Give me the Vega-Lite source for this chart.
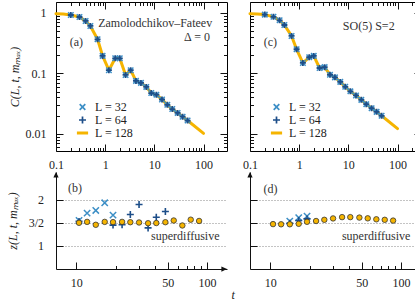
{
  "$schema": "https://vega.github.io/schema/vega-lite/v6.json",
  "padding": {"left": 6, "top": 1, "right": 0, "bottom": 0},
  "background": "white",
  "config": {
    "font": "Liberation Serif",
    "view": {"stroke": "black", "strokeWidth": 1},
    "axis": {
      "labelFont": "Liberation Serif", "labelFontSize": 12, "labelColor": "#222",
      "titleFont": "Liberation Serif", "titleFontSize": 12, "titleColor": "#222", "titleFontWeight": "normal",
      "tickColor": "#111", "tickWidth": 1, "domainColor": "#111", "domainWidth": 1,
      "labelOverlap": false, "labelFlush": false, "grid": false
    },
    "legend": {"labelFont": "Liberation Serif", "labelFontSize": 12, "labelColor": "#222"},
    "title": {"font": "Liberation Serif"}
  },
  "title": {"text": "t", "orient": "bottom", "anchor": "middle", "fontStyle": "italic", "fontWeight": "normal", "fontSize": 12, "color": "#222", "offset": 2, "dx": 19},
  "datasets": {
    "A": [
      {"L": "L = 128", "t": 0.1, "C": 0.975}, {"L": "L = 128", "t": 0.14, "C": 0.96},
      {"L": "L = 128", "t": 0.2, "C": 0.927}, {"L": "L = 128", "t": 0.3, "C": 0.859}, {"L": "L = 128", "t": 0.4, "C": 0.738}, {"L": "L = 128", "t": 0.5, "C": 0.61},
      {"L": "L = 128", "t": 0.7, "C": 0.367}, {"L": "L = 128", "t": 0.886, "C": 0.195}, {"L": "L = 128", "t": 1.19, "C": 0.113}, {"L": "L = 128", "t": 1.6, "C": 0.178},
      {"L": "L = 128", "t": 1.98, "C": 0.178}, {"L": "L = 128", "t": 2.6, "C": 0.0944}, {"L": "L = 128", "t": 3.3, "C": 0.113}, {"L": "L = 128", "t": 4.23, "C": 0.0752},
      {"L": "L = 128", "t": 5.34, "C": 0.0697}, {"L": "L = 128", "t": 6.85, "C": 0.0598}, {"L": "L = 128", "t": 8.65, "C": 0.0473}, {"L": "L = 128", "t": 11, "C": 0.0445},
      {"L": "L = 128", "t": 14.3, "C": 0.037}, {"L": "L = 128", "t": 18.35, "C": 0.0302}, {"L": "L = 128", "t": 23.15, "C": 0.0257}, {"L": "L = 128", "t": 29.7, "C": 0.0222},
      {"L": "L = 128", "t": 37.5, "C": 0.0192}, {"L": "L = 128", "t": 47.4, "C": 0.0166}, {"L": "L = 128", "t": 100, "C": 0.0102},
      {"L": "L = 32", "t": 0.2, "C": 0.927}, {"L": "L = 32", "t": 0.3, "C": 0.859}, {"L": "L = 32", "t": 0.4, "C": 0.738}, {"L": "L = 32", "t": 0.5, "C": 0.61},
      {"L": "L = 32", "t": 0.7, "C": 0.367}, {"L": "L = 32", "t": 0.886, "C": 0.195}, {"L": "L = 32", "t": 1.19, "C": 0.113}, {"L": "L = 32", "t": 1.6, "C": 0.178},
      {"L": "L = 32", "t": 1.98, "C": 0.178}, {"L": "L = 32", "t": 2.6, "C": 0.0944}, {"L": "L = 32", "t": 3.3, "C": 0.113}, {"L": "L = 32", "t": 4.23, "C": 0.0752},
      {"L": "L = 32", "t": 5.34, "C": 0.0697}, {"L": "L = 32", "t": 6.85, "C": 0.0598}, {"L": "L = 32", "t": 8.65, "C": 0.0473}, {"L": "L = 32", "t": 11, "C": 0.0445},
      {"L": "L = 32", "t": 14.3, "C": 0.037}, {"L": "L = 32", "t": 18.35, "C": 0.0302}, {"L": "L = 32", "t": 23.15, "C": 0.0257}, {"L": "L = 32", "t": 29.7, "C": 0.0222},
      {"L": "L = 32", "t": 37.5, "C": 0.0192}, {"L": "L = 32", "t": 47.4, "C": 0.0166},
      {"L": "L = 64", "t": 0.2, "C": 0.927}, {"L": "L = 64", "t": 0.3, "C": 0.859}, {"L": "L = 64", "t": 0.4, "C": 0.738}, {"L": "L = 64", "t": 0.5, "C": 0.61},
      {"L": "L = 64", "t": 0.7, "C": 0.367}, {"L": "L = 64", "t": 0.886, "C": 0.195}, {"L": "L = 64", "t": 1.19, "C": 0.113}, {"L": "L = 64", "t": 1.6, "C": 0.178},
      {"L": "L = 64", "t": 1.98, "C": 0.178}, {"L": "L = 64", "t": 2.6, "C": 0.0944}, {"L": "L = 64", "t": 3.3, "C": 0.113}, {"L": "L = 64", "t": 4.23, "C": 0.0752},
      {"L": "L = 64", "t": 5.34, "C": 0.0697}, {"L": "L = 64", "t": 6.85, "C": 0.0598}, {"L": "L = 64", "t": 8.65, "C": 0.0473}, {"L": "L = 64", "t": 11, "C": 0.0445},
      {"L": "L = 64", "t": 14.3, "C": 0.037}, {"L": "L = 64", "t": 18.35, "C": 0.0302}, {"L": "L = 64", "t": 23.15, "C": 0.0257}, {"L": "L = 64", "t": 29.7, "C": 0.0222},
      {"L": "L = 64", "t": 37.5, "C": 0.0192}, {"L": "L = 64", "t": 47.4, "C": 0.0166}
    ],
    "C": [
      {"L": "L = 128", "t": 0.1, "C": 0.975}, {"L": "L = 128", "t": 0.14, "C": 0.96},
      {"L": "L = 128", "t": 0.2, "C": 0.94}, {"L": "L = 128", "t": 0.3, "C": 0.865}, {"L": "L = 128", "t": 0.4, "C": 0.757}, {"L": "L = 128", "t": 0.5, "C": 0.633},
      {"L": "L = 128", "t": 0.7, "C": 0.417}, {"L": "L = 128", "t": 0.886, "C": 0.251}, {"L": "L = 128", "t": 1.19, "C": 0.149}, {"L": "L = 128", "t": 1.6, "C": 0.185},
      {"L": "L = 128", "t": 1.98, "C": 0.195}, {"L": "L = 128", "t": 2.6, "C": 0.123}, {"L": "L = 128", "t": 3.3, "C": 0.127}, {"L": "L = 128", "t": 4.23, "C": 0.095},
      {"L": "L = 128", "t": 5.34, "C": 0.086}, {"L": "L = 128", "t": 6.85, "C": 0.0724}, {"L": "L = 128", "t": 8.65, "C": 0.06}, {"L": "L = 128", "t": 11, "C": 0.0505},
      {"L": "L = 128", "t": 14.3, "C": 0.0432}, {"L": "L = 128", "t": 18.35, "C": 0.0365}, {"L": "L = 128", "t": 23.15, "C": 0.031}, {"L": "L = 128", "t": 29.7, "C": 0.0266},
      {"L": "L = 128", "t": 37.5, "C": 0.0231}, {"L": "L = 128", "t": 47.4, "C": 0.0199}, {"L": "L = 128", "t": 100, "C": 0.0122},
      {"L": "L = 32", "t": 0.2, "C": 0.94}, {"L": "L = 32", "t": 0.3, "C": 0.865}, {"L": "L = 32", "t": 0.4, "C": 0.757}, {"L": "L = 32", "t": 0.5, "C": 0.633},
      {"L": "L = 32", "t": 0.7, "C": 0.417}, {"L": "L = 32", "t": 0.886, "C": 0.251}, {"L": "L = 32", "t": 1.19, "C": 0.149}, {"L": "L = 32", "t": 1.6, "C": 0.185},
      {"L": "L = 32", "t": 1.98, "C": 0.195}, {"L": "L = 32", "t": 2.6, "C": 0.123}, {"L": "L = 32", "t": 3.3, "C": 0.127}, {"L": "L = 32", "t": 4.23, "C": 0.095},
      {"L": "L = 32", "t": 5.34, "C": 0.086}, {"L": "L = 32", "t": 6.85, "C": 0.0724}, {"L": "L = 32", "t": 8.65, "C": 0.06}, {"L": "L = 32", "t": 11, "C": 0.0505},
      {"L": "L = 32", "t": 14.3, "C": 0.0432}, {"L": "L = 32", "t": 18.35, "C": 0.0365}, {"L": "L = 32", "t": 23.15, "C": 0.031}, {"L": "L = 32", "t": 29.7, "C": 0.0266},
      {"L": "L = 32", "t": 37.5, "C": 0.0231}, {"L": "L = 32", "t": 47.4, "C": 0.0199},
      {"L": "L = 64", "t": 0.2, "C": 0.94}, {"L": "L = 64", "t": 0.3, "C": 0.865}, {"L": "L = 64", "t": 0.4, "C": 0.757}, {"L": "L = 64", "t": 0.5, "C": 0.633},
      {"L": "L = 64", "t": 0.7, "C": 0.417}, {"L": "L = 64", "t": 0.886, "C": 0.251}, {"L": "L = 64", "t": 1.19, "C": 0.149}, {"L": "L = 64", "t": 1.6, "C": 0.185},
      {"L": "L = 64", "t": 1.98, "C": 0.195}, {"L": "L = 64", "t": 2.6, "C": 0.123}, {"L": "L = 64", "t": 3.3, "C": 0.127}, {"L": "L = 64", "t": 4.23, "C": 0.095},
      {"L": "L = 64", "t": 5.34, "C": 0.086}, {"L": "L = 64", "t": 6.85, "C": 0.0724}, {"L": "L = 64", "t": 8.65, "C": 0.06}, {"L": "L = 64", "t": 11, "C": 0.0505},
      {"L": "L = 64", "t": 14.3, "C": 0.0432}, {"L": "L = 64", "t": 18.35, "C": 0.0365}, {"L": "L = 64", "t": 23.15, "C": 0.031}, {"L": "L = 64", "t": 29.7, "C": 0.0266},
      {"L": "L = 64", "t": 37.5, "C": 0.0231}, {"L": "L = 64", "t": 47.4, "C": 0.0199}
    ],
    "B": [
      {"L": "L = 128", "t": 10.5, "z": 1.5}, {"L": "L = 128", "t": 12.1, "z": 1.52}, {"L": "L = 128", "t": 14.1, "z": 1.457}, {"L": "L = 128", "t": 16.5, "z": 1.52},
      {"L": "L = 128", "t": 19.1, "z": 1.515}, {"L": "L = 128", "t": 22.4, "z": 1.52}, {"L": "L = 128", "t": 25.9, "z": 1.513}, {"L": "L = 128", "t": 30.2, "z": 1.507},
      {"L": "L = 128", "t": 35.4, "z": 1.491}, {"L": "L = 128", "t": 40.9, "z": 1.495}, {"L": "L = 128", "t": 48, "z": 1.513}, {"L": "L = 128", "t": 55.6, "z": 1.55},
      {"L": "L = 128", "t": 64.7, "z": 1.442}, {"L": "L = 128", "t": 75, "z": 1.568}, {"L": "L = 128", "t": 86.9, "z": 1.54},
      {"L": "L = 32", "t": 10.5, "z": 1.55}, {"L": "L = 32", "t": 12.1, "z": 1.709}, {"L": "L = 32", "t": 14.1, "z": 1.767}, {"L": "L = 32", "t": 16.5, "z": 1.934}, {"L": "L = 32", "t": 19.1, "z": 1.666},
      {"L": "L = 64", "t": 10.5, "z": 1.53}, {"L": "L = 64", "t": 19.1, "z": 1.45}, {"L": "L = 64", "t": 22.4, "z": 1.457}, {"L": "L = 64", "t": 25.9, "z": 1.68},
      {"L": "L = 64", "t": 30.2, "z": 1.898}, {"L": "L = 64", "t": 35.4, "z": 1.39}, {"L": "L = 64", "t": 40.9, "z": 1.62}, {"L": "L = 64", "t": 48, "z": 1.745}
    ],
    "D": [
      {"L": "L = 128", "t": 10.5, "z": 1.472}, {"L": "L = 128", "t": 12.1, "z": 1.468}, {"L": "L = 128", "t": 14.1, "z": 1.468}, {"L": "L = 128", "t": 16.5, "z": 1.478},
      {"L": "L = 128", "t": 19.1, "z": 1.522}, {"L": "L = 128", "t": 22.4, "z": 1.539}, {"L": "L = 128", "t": 25.9, "z": 1.565}, {"L": "L = 128", "t": 30.2, "z": 1.595},
      {"L": "L = 128", "t": 35.4, "z": 1.623}, {"L": "L = 128", "t": 40.9, "z": 1.623}, {"L": "L = 128", "t": 48, "z": 1.613}, {"L": "L = 128", "t": 55.6, "z": 1.597},
      {"L": "L = 128", "t": 64.7, "z": 1.576}, {"L": "L = 128", "t": 75, "z": 1.565}, {"L": "L = 128", "t": 86.9, "z": 1.548},
      {"L": "L = 32", "t": 14.1, "z": 1.537}, {"L": "L = 32", "t": 16.5, "z": 1.61}, {"L": "L = 32", "t": 19.1, "z": 1.645},
      {"L": "L = 64", "t": 14.1, "z": 1.49}, {"L": "L = 64", "t": 16.5, "z": 1.55}, {"L": "L = 64", "t": 19.1, "z": 1.585}
    ]
  },
  "columns": 2,
  "align": "each",
  "spacing": {"row": 1, "column": 14},
  "resolve": {"scale": {"color": "independent"}, "legend": {"color": "independent"}},
  "concat": [
    {
      "width": 171, "height": 149,
      "view": {"stroke": "black", "strokeWidth": 1},
      "data": {"name": "A"},
      "resolve": {"axis": {"x": "independent", "y": "independent"}},
      "layer": [
        {
          "transform": [{"filter": "datum.L == 'L = 128'"}],
          "mark": {"type": "line", "strokeWidth": 3, "strokeJoin": "round", "strokeCap": "round"},
          "encoding": {
            "x": {"field": "t", "type": "quantitative", "scale": {"type": "log", "domain": [0.1, 300], "nice": false},
              "axis": {"orient": "bottom", "title": null, "values": [0.1, 1, 10, 100], "format": "~g", "tickSize": 7, "offset": -7, "labelPadding": 8, "domain": false}},
            "y": {"field": "C", "type": "quantitative", "scale": {"type": "log", "domain": [0.0052, 1.52], "nice": false},
              "axis": {"orient": "left", "title": "C(L, t, mₘₐₓ)", "titleFontStyle": "italic", "values": [0.01, 0.1, 1], "format": "~g",
                "tickSize": 7, "offset": -7, "labelPadding": 10, "minExtent": 38, "maxExtent": 38, "titlePadding": 4, "domain": false}},
            "color": {"field": "L", "type": "nominal", "scale": {"domain": ["L = 32", "L = 64", "L = 128"], "range": ["#3d8fc6", "#1d4e89", "#f5b400"]},
              "legend": {"title": null, "orient": "none", "legendX": 20.5, "legendY": 99, "symbolSize": 49, "labelOffset": 6.5, "rowPadding": -1, "padding": 0,
                "encode": {"symbols": {"update": {
                  "shape": {"signal": "datum.value == 'L = 128' ? 'M-1.6,0H1.6' : datum.value == 'L = 64' ? 'M-1,0H1M0,-1V1' : 'M-0.8,-0.8L0.8,0.8M-0.8,0.8L0.8,-0.8'"},
                  "strokeWidth": {"signal": "datum.value == 'L = 128' ? 3 : 1.7"},
                  "fill": {"value": "transparent"}, "opacity": {"value": 1}}}}}}
          }
        },
        {
          "transform": [{"filter": "datum.L == 'L = 32'"}],
          "mark": {"type": "point", "shape": "M-1,-1L1,1M-1,1L1,-1", "filled": false, "size": 30, "strokeWidth": 1.5, "opacity": 1},
          "encoding": {
            "x": {"field": "t", "type": "quantitative", "axis": {"orient": "top", "title": null, "values": [0.1, 1, 10, 100], "labels": false, "tickSize": 7, "offset": -7, "domain": false}},
            "y": {"field": "C", "type": "quantitative", "axis": {"orient": "right", "title": null, "values": [0.01, 0.1, 1], "labels": false, "tickSize": 7, "offset": -7, "domain": false}},
            "color": {"field": "L", "type": "nominal"}
          }
        },
        {
          "transform": [{"filter": "datum.L == 'L = 64'"}],
          "mark": {"type": "point", "shape": "M-1,0H1M0,-1V1", "filled": false, "size": 36, "strokeWidth": 1.8, "opacity": 1},
          "encoding": {
            "x": {"field": "t", "type": "quantitative", "axis": {"orient": "bottom", "title": null, "values": [0.2,0.3,0.4,0.5,0.6,0.7,0.8,0.9,2,3,4,5,6,7,8,9,20,30,40,50,60,70,80,90,200], "labels": false, "tickSize": 3.5, "offset": -3.5, "domain": false}},
            "y": {"field": "C", "type": "quantitative", "axis": {"orient": "left", "title": null, "values": [0.006,0.007,0.008,0.009,0.02,0.03,0.04,0.05,0.06,0.07,0.08,0.09,0.2,0.3,0.4,0.5,0.6,0.7,0.8,0.9], "labels": false, "tickSize": 3.5, "offset": -3.5, "domain": false}},
            "color": {"field": "L", "type": "nominal"}
          }
        },
        {
          "data": {"values": [{}]},
          "mark": {"type": "text", "text": "Zamolodchikov–Fateev", "align": "right", "baseline": "middle", "fontSize": 12, "color": "#333"},
          "encoding": {
            "x": {"datum": 150, "type": "quantitative", "axis": {"orient": "top", "title": null, "values": [0.2,0.3,0.4,0.5,0.6,0.7,0.8,0.9,2,3,4,5,6,7,8,9,20,30,40,50,60,70,80,90,200], "labels": false, "tickSize": 3.5, "offset": -3.5, "domain": false}},
            "y": {"datum": 0.67, "type": "quantitative", "axis": {"orient": "right", "title": null, "values": [0.006,0.007,0.008,0.009,0.02,0.03,0.04,0.05,0.06,0.07,0.08,0.09,0.2,0.3,0.4,0.5,0.6,0.7,0.8,0.9], "labels": false, "tickSize": 3.5, "offset": -3.5, "domain": false}}
          }
        },
        {
          "data": {"values": [{}]},
          "mark": {"type": "text", "text": "Δ = 0", "align": "right", "baseline": "middle", "fontSize": 12, "color": "#333"},
          "encoding": {"x": {"datum": 135, "type": "quantitative", "axis": null}, "y": {"datum": 0.4, "type": "quantitative", "axis": null}}
        },
        {
          "data": {"values": [{}]},
          "mark": {"type": "text", "text": "(a)", "align": "left", "baseline": "middle", "fontSize": 12, "color": "#333"},
          "encoding": {"x": {"datum": 0.19, "type": "quantitative", "axis": null}, "y": {"datum": 0.336, "type": "quantitative", "axis": null}}
        }
      ]
    },
    {
      "width": 171, "height": 149,
      "view": {"stroke": "black", "strokeWidth": 1},
      "data": {"name": "C"},
      "resolve": {"axis": {"x": "independent", "y": "independent"}},
      "layer": [
        {
          "transform": [{"filter": "datum.L == 'L = 128'"}],
          "mark": {"type": "line", "strokeWidth": 3, "strokeJoin": "round", "strokeCap": "round"},
          "encoding": {
            "x": {"field": "t", "type": "quantitative", "scale": {"type": "log", "domain": [0.1, 300], "nice": false},
              "axis": {"orient": "bottom", "title": null, "values": [0.1, 1, 10, 100], "format": "~g", "tickSize": 7, "offset": -7, "labelPadding": 8, "domain": false}},
            "y": {"field": "C", "type": "quantitative", "scale": {"type": "log", "domain": [0.0052, 1.52], "nice": false},
              "axis": {"orient": "left", "title": null, "values": [0.01, 0.1, 1], "labels": false, "tickSize": 7, "offset": -7, "domain": false}},
            "color": {"field": "L", "type": "nominal", "scale": {"domain": ["L = 32", "L = 64", "L = 128"], "range": ["#3d8fc6", "#1d4e89", "#f5b400"]},
              "legend": {"title": null, "orient": "none", "legendX": 20.5, "legendY": 99, "symbolSize": 49, "labelOffset": 6.5, "rowPadding": -1, "padding": 0,
                "encode": {"symbols": {"update": {
                  "shape": {"signal": "datum.value == 'L = 128' ? 'M-1.6,0H1.6' : datum.value == 'L = 64' ? 'M-1,0H1M0,-1V1' : 'M-0.8,-0.8L0.8,0.8M-0.8,0.8L0.8,-0.8'"},
                  "strokeWidth": {"signal": "datum.value == 'L = 128' ? 3 : 1.7"},
                  "fill": {"value": "transparent"}, "opacity": {"value": 1}}}}}}
          }
        },
        {
          "transform": [{"filter": "datum.L == 'L = 32'"}],
          "mark": {"type": "point", "shape": "M-1,-1L1,1M-1,1L1,-1", "filled": false, "size": 30, "strokeWidth": 1.5, "opacity": 1},
          "encoding": {
            "x": {"field": "t", "type": "quantitative", "axis": {"orient": "top", "title": null, "values": [0.1, 1, 10, 100], "labels": false, "tickSize": 7, "offset": -7, "domain": false}},
            "y": {"field": "C", "type": "quantitative", "axis": {"orient": "right", "title": null, "values": [0.01, 0.1, 1], "labels": false, "tickSize": 7, "offset": -7, "domain": false}},
            "color": {"field": "L", "type": "nominal"}
          }
        },
        {
          "transform": [{"filter": "datum.L == 'L = 64'"}],
          "mark": {"type": "point", "shape": "M-1,0H1M0,-1V1", "filled": false, "size": 36, "strokeWidth": 1.8, "opacity": 1},
          "encoding": {
            "x": {"field": "t", "type": "quantitative", "axis": {"orient": "bottom", "title": null, "values": [0.2,0.3,0.4,0.5,0.6,0.7,0.8,0.9,2,3,4,5,6,7,8,9,20,30,40,50,60,70,80,90,200], "labels": false, "tickSize": 3.5, "offset": -3.5, "domain": false}},
            "y": {"field": "C", "type": "quantitative", "axis": {"orient": "left", "title": null, "values": [0.006,0.007,0.008,0.009,0.02,0.03,0.04,0.05,0.06,0.07,0.08,0.09,0.2,0.3,0.4,0.5,0.6,0.7,0.8,0.9], "labels": false, "tickSize": 3.5, "offset": -3.5, "domain": false}},
            "color": {"field": "L", "type": "nominal"}
          }
        },
        {
          "data": {"values": [{}]},
          "mark": {"type": "text", "text": "SO(5) S=2", "align": "right", "baseline": "middle", "fontSize": 12, "color": "#333"},
          "encoding": {
            "x": {"datum": 87.3, "type": "quantitative", "axis": {"orient": "top", "title": null, "values": [0.2,0.3,0.4,0.5,0.6,0.7,0.8,0.9,2,3,4,5,6,7,8,9,20,30,40,50,60,70,80,90,200], "labels": false, "tickSize": 3.5, "offset": -3.5, "domain": false}},
            "y": {"datum": 0.61, "type": "quantitative", "axis": {"orient": "right", "title": null, "values": [0.006,0.007,0.008,0.009,0.02,0.03,0.04,0.05,0.06,0.07,0.08,0.09,0.2,0.3,0.4,0.5,0.6,0.7,0.8,0.9], "labels": false, "tickSize": 3.5, "offset": -3.5, "domain": false}}
          }
        },
        {
          "data": {"values": [{}]},
          "mark": {"type": "text", "text": "(c)", "align": "left", "baseline": "middle", "fontSize": 12, "color": "#333"},
          "encoding": {"x": {"datum": 0.19, "type": "quantitative", "axis": null}, "y": {"datum": 0.336, "type": "quantitative", "axis": null}}
        }
      ]
    },
    {
      "width": 171, "height": 97,
      "view": {"stroke": "transparent", "strokeWidth": 0},
      "data": {"name": "B"},
      "resolve": {"axis": {"x": "independent", "y": "independent"}},
      "layer": [
        {
          "transform": [{"filter": "datum.L == 'L = 32'"}],
          "mark": {"type": "point", "shape": "M-1,-1L1,1M-1,1L1,-1", "filled": false, "size": 40, "strokeWidth": 1.5, "color": "#3d8fc6", "opacity": 1},
          "encoding": {
            "x": {"field": "t", "type": "quantitative", "scale": {"type": "log", "domain": [7, 142], "nice": false},
              "axis": {"orient": "bottom", "title": null, "values": [10, 50, 100], "format": "~g", "ticks": false, "labelPadding": 8, "domain": true}},
            "y": {"field": "z", "type": "quantitative", "scale": {"type": "linear", "domain": [0.5, 2.6], "nice": false, "zero": false},
              "axis": {"orient": "left", "title": "z(L, t, mₘₐₓ)", "titleFontStyle": "italic", "values": [1, 1.5, 2], "format": "~g",
                "labelExpr": "datum.value == 1.5 ? '3/2' : datum.label", "ticks": false, "labelPadding": 12.5,
                "grid": true, "gridDash": [1, 2], "gridColor": "#888", "gridWidth": 1,
                "minExtent": 32, "maxExtent": 32, "titlePadding": 4.5, "domain": true}}
          }
        },
        {
          "transform": [{"filter": "datum.L == 'L = 64'"}],
          "mark": {"type": "point", "shape": "M-1,0H1M0,-1V1", "filled": false, "size": 49, "strokeWidth": 1.6, "color": "#1d4e89", "opacity": 1},
          "encoding": {
            "x": {"field": "t", "type": "quantitative", "axis": {"orient": "bottom", "title": null, "values": [10, 50, 100], "labels": false, "tickSize": 7, "offset": -7, "domain": false}},
            "y": {"field": "z", "type": "quantitative", "axis": {"orient": "left", "title": null, "values": [1, 1.5, 2], "labels": false, "tickSize": 7, "offset": -7, "domain": false, "grid": false}}
          }
        },
        {
          "transform": [{"filter": "datum.L == 'L = 128'"}],
          "mark": {"type": "point", "shape": "circle", "filled": true, "size": 30, "fill": "#f5b400", "stroke": "#333", "strokeWidth": 0.8, "opacity": 1},
          "encoding": {
            "x": {"field": "t", "type": "quantitative", "axis": {"orient": "bottom", "title": null, "values": [20, 30, 40, 60, 70, 80, 90], "labels": false, "tickSize": 3.5, "offset": -3.5, "domain": false}},
            "y": {"field": "z", "type": "quantitative", "axis": null}
          }
        },
        {
          "data": {"values": [{}]},
          "mark": {"type": "point", "shape": "M0,-1L0.75,0.6L-0.75,0.6Z", "filled": true, "size": 49, "color": "#111", "opacity": 1},
          "encoding": {"x": {"datum": 7, "type": "quantitative", "axis": null}, "y": {"datum": 2.524, "type": "quantitative", "axis": null}}
        },
        {
          "data": {"values": [{}]},
          "mark": {"type": "point", "shape": "M1,0L-0.6,0.75L-0.6,-0.75Z", "filled": true, "size": 49, "color": "#111", "opacity": 1},
          "encoding": {"x": {"datum": 133.5, "type": "quantitative", "axis": null}, "y": {"datum": 0.5, "type": "quantitative", "axis": null}}
        },
        {
          "data": {"values": [{}]},
          "mark": {"type": "text", "text": "(b)", "align": "left", "baseline": "middle", "fontSize": 12, "color": "#333"},
          "encoding": {"x": {"datum": 8.64, "type": "quantitative", "axis": null}, "y": {"datum": 2.26, "type": "quantitative", "axis": null}}
        },
        {
          "data": {"values": [{}]},
          "mark": {"type": "text", "text": "superdiffusive", "align": "right", "baseline": "middle", "fontSize": 12, "color": "#333"},
          "encoding": {"x": {"datum": 124.5, "type": "quantitative", "axis": null}, "y": {"datum": 1.214, "type": "quantitative", "axis": null}}
        }
      ]
    },
    {
      "width": 171, "height": 97,
      "view": {"stroke": "transparent", "strokeWidth": 0},
      "data": {"name": "D"},
      "resolve": {"axis": {"x": "independent", "y": "independent"}},
      "layer": [
        {
          "transform": [{"filter": "datum.L == 'L = 32'"}],
          "mark": {"type": "point", "shape": "M-1,-1L1,1M-1,1L1,-1", "filled": false, "size": 40, "strokeWidth": 1.5, "color": "#3d8fc6", "opacity": 1},
          "encoding": {
            "x": {"field": "t", "type": "quantitative", "scale": {"type": "log", "domain": [7, 142], "nice": false},
              "axis": {"orient": "bottom", "title": null, "values": [10, 50, 100], "format": "~g", "ticks": false, "labelPadding": 8, "domain": true}},
            "y": {"field": "z", "type": "quantitative", "scale": {"type": "linear", "domain": [0.5, 2.6], "nice": false, "zero": false},
              "axis": {"orient": "left", "title": null, "values": [1, 1.5, 2], "labels": false, "ticks": false,
                "grid": true, "gridDash": [1, 2], "gridColor": "#888", "gridWidth": 1, "domain": true}}
          }
        },
        {
          "transform": [{"filter": "datum.L == 'L = 64'"}],
          "mark": {"type": "point", "shape": "M-1,0H1M0,-1V1", "filled": false, "size": 49, "strokeWidth": 1.6, "color": "#1d4e89", "opacity": 1},
          "encoding": {
            "x": {"field": "t", "type": "quantitative", "axis": {"orient": "bottom", "title": null, "values": [10, 50, 100], "labels": false, "tickSize": 7, "offset": -7, "domain": false}},
            "y": {"field": "z", "type": "quantitative", "axis": {"orient": "left", "title": null, "values": [1, 1.5, 2], "labels": false, "tickSize": 7, "offset": -7, "domain": false, "grid": false}}
          }
        },
        {
          "transform": [{"filter": "datum.L == 'L = 128'"}],
          "mark": {"type": "point", "shape": "circle", "filled": true, "size": 30, "fill": "#f5b400", "stroke": "#333", "strokeWidth": 0.8, "opacity": 1},
          "encoding": {
            "x": {"field": "t", "type": "quantitative", "axis": {"orient": "bottom", "title": null, "values": [20, 30, 40, 60, 70, 80, 90], "labels": false, "tickSize": 3.5, "offset": -3.5, "domain": false}},
            "y": {"field": "z", "type": "quantitative", "axis": null}
          }
        },
        {
          "data": {"values": [{}]},
          "mark": {"type": "point", "shape": "M0,-1L0.75,0.6L-0.75,0.6Z", "filled": true, "size": 49, "color": "#111", "opacity": 1},
          "encoding": {"x": {"datum": 7, "type": "quantitative", "axis": null}, "y": {"datum": 2.524, "type": "quantitative", "axis": null}}
        },
        {
          "data": {"values": [{}]},
          "mark": {"type": "point", "shape": "M1,0L-0.6,0.75L-0.6,-0.75Z", "filled": true, "size": 49, "color": "#111", "opacity": 1},
          "encoding": {"x": {"datum": 133.5, "type": "quantitative", "axis": null}, "y": {"datum": 0.5, "type": "quantitative", "axis": null}}
        },
        {
          "data": {"values": [{}]},
          "mark": {"type": "text", "text": "(d)", "align": "left", "baseline": "middle", "fontSize": 12, "color": "#333"},
          "encoding": {"x": {"datum": 8.89, "type": "quantitative", "axis": null}, "y": {"datum": 2.24, "type": "quantitative", "axis": null}}
        },
        {
          "data": {"values": [{}]},
          "mark": {"type": "text", "text": "superdiffusive", "align": "right", "baseline": "middle", "fontSize": 12, "color": "#333"},
          "encoding": {"x": {"datum": 117.8, "type": "quantitative", "axis": null}, "y": {"datum": 1.214, "type": "quantitative", "axis": null}}
        }
      ]
    }
  ]
}
